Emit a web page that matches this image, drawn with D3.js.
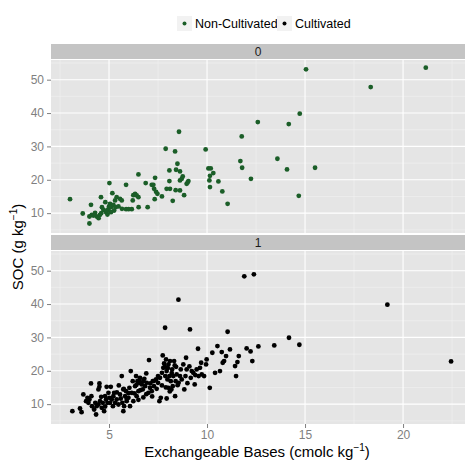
<!DOCTYPE html>
<html>
<head>
<meta charset="utf-8">
<script src="https://cdn.jsdelivr.net/npm/d3@7"></script>
<style>
  body { margin: 0; background: #fff; }
  text { font-family: "Liberation Sans", Arial, sans-serif; }
</style>
</head>
<body>
<div id="chart"></div>
<script>
// panel labels and legend
var panels = ["0", "1"];
var groups = ["Non-Cultivated", "Cultivated"];
var colors = ["#1b5e28", "#000000"];
var xTicks = [5, 10, 15, 20];
var yTicks = [10, 20, 30, 40, 50];

// Non-Cultivated (panel 0)
var nonCultX = [3.01, 3.66, 4.0, 4.08, 4.0, 4.12, 4.29, 4.37, 4.47, 4.54, 4.59, 4.64, 4.71, 4.81, 4.85, 4.92, 4.98, 5.05, 5.1, 5.17,
  5.22, 5.26, 5.31, 5.34, 5.39, 5.48, 5.56, 5.65, 5.66, 5.87, 5.87, 6.0, 6.16, 6.21, 6.24, 6.33, 6.41, 6.5, 6.51, 6.5,
  6.87, 6.97, 7.18, 7.26, 7.35, 7.3, 7.4, 7.47, 7.7, 7.89, 7.94, 8.08, 8.08, 8.11, 8.25, 8.37, 8.42, 8.49, 8.57, 8.62,
  8.62, 8.62, 8.71, 8.76, 8.83, 8.96, 9.01, 9.05, 9.93, 10.07, 10.12, 10.15, 10.19, 10.15, 10.32, 10.58, 10.78, 11.05, 11.7, 11.79,
  11.77, 12.24, 12.59, 13.59, 14.08, 14.17, 14.68, 14.73, 15.05, 15.51, 18.35, 21.16, 7.33, 8.4, 5.02, 4.2, 4.9, 5.1, 4.6, 5.0];
var nonCultY = [14.2, 9.9, 6.9, 12.5, 9.0, 9.5, 10.1, 9.0, 8.5, 9.5, 14.8, 11.8, 11.0, 13.3, 10.3, 9.6, 11.3, 12.8, 11.8, 16.0,
  12.5, 10.8, 13.8, 11.8, 14.8, 12.0, 14.3, 13.8, 11.3, 11.2, 18.5, 11.2, 11.2, 13.8, 15.4, 15.8, 15.3, 21.6, 11.8, 14.8,
  19.0, 11.8, 18.5, 18.5, 20.6, 17.3, 16.4, 15.8, 15.0, 29.3, 17.3, 22.8, 19.6, 17.3, 13.7, 28.5, 23.0, 24.8, 34.4, 22.5,
  19.8, 16.8, 20.3, 21.0, 15.4, 18.8, 19.2, 19.6, 29.1, 23.4, 19.8, 17.8, 23.4, 21.2, 22.0, 19.5, 16.5, 12.8, 25.6, 23.6,
  33.0, 20.3, 37.3, 26.3, 23.1, 36.7, 15.2, 39.8, 53.1, 23.6, 47.8, 53.6, 14.2, 16.9, 19.0, 9.3, 10.8, 10.3, 10.0, 12.0];

// Cultivated (panel 1)
var cultX = [3.13, 3.52, 3.6, 3.69, 3.83, 3.9, 3.95, 4.0, 4.08, 4.13, 4.24, 4.34, 4.37, 4.46, 4.51, 4.51, 4.54, 4.63, 4.68, 4.75,
  4.8, 4.85, 4.88, 4.92, 4.97, 5.02, 5.05, 5.09, 5.14, 5.22, 5.26, 5.31, 5.39, 5.48, 5.56, 5.65, 5.68, 5.73, 5.77, 5.82,
  5.87, 5.9, 5.99, 6.04, 6.07, 6.11, 6.16, 6.21, 6.24, 6.33, 6.38, 6.41, 6.45, 6.5, 6.55, 6.58, 6.67, 6.72, 6.75, 6.84,
  6.92, 7.01, 7.04, 7.09, 7.18, 7.23, 7.29, 7.4, 7.43, 7.5, 7.57, 7.6, 7.64, 7.7, 7.74, 7.77, 7.81, 7.86, 7.87, 7.91,
  7.94, 7.98, 8.03, 8.03, 8.08, 8.11, 8.15, 8.18, 8.22, 8.25, 8.28, 8.32, 8.37, 8.4, 8.42, 8.45, 8.54, 8.55, 8.62, 8.66,
  8.71, 8.79, 8.84, 8.9, 8.93, 8.96, 9.13, 9.17, 9.22, 9.3, 9.37, 9.47, 9.54, 9.57, 9.64, 9.73, 9.85, 9.95, 9.98, 10.14,
  10.27, 10.41, 10.53, 10.66, 10.75, 10.8, 10.87, 10.97, 11.05, 11.17, 11.43, 11.48, 11.55, 11.62, 11.9, 12.39, 12.02, 12.22, 12.31, 12.62,
  13.43, 14.18, 14.71, 19.2, 22.45, 7.94, 6.5, 4.46, 5.73,
  6.55, 6.8, 7.1, 7.3, 6.4, 6.6, 6.9, 7.2, 6.75, 6.3, 7.5, 7.7, 7.9, 8.1, 8.5, 8.2, 8.35, 8.0, 7.85, 5.4,
  5.6, 5.2, 4.8, 4.3, 4.1, 5.9, 6.0, 5.75, 4.6, 5.5, 6.9, 9.1, 9.4, 9.7, 9.0];
var cultY = [7.9, 8.7, 7.6, 12.9, 10.9, 11.9, 10.4, 11.4, 16.2, 9.4, 8.4, 6.9, 9.4, 9.9, 16.2, 15.2, 10.9, 8.9, 10.4, 7.9,
  12.4, 11.4, 15.2, 10.4, 13.4, 11.9, 10.4, 15.2, 11.4, 12.4, 13.4, 10.4, 11.4, 9.9, 12.9, 18.4, 10.4, 7.9, 9.4, 12.4,
  13.9, 10.9, 11.9, 14.9, 9.4, 19.9, 13.4, 16.9, 10.9, 15.4, 18.4, 12.4, 16.9, 13.9, 16.4, 17.9, 15.9, 14.4, 16.9, 15.4,
  16.4, 13.4, 23.2, 14.9, 13.9, 16.9, 15.4, 17.4, 14.6, 18.4, 10.9, 17.9, 11.9, 19.4, 24.6, 20.9, 22.2, 32.9, 18.4, 23.4,
  19.9, 17.4, 21.9, 14.9, 18.4, 22.9, 16.9, 14.4, 20.4, 15.4, 18.4, 22.9, 12.4, 16.9, 21.2, 18.9, 41.3, 16.4, 18.4, 20.4,
  17.4, 21.9, 14.4, 18.4, 23.9, 20.4, 32.4, 17.9, 19.9, 19.4, 15.9, 20.4, 26.6, 18.4, 20.9, 18.9, 18.4, 21.9, 23.4, 14.9,
  25.4, 19.4, 27.4, 19.9, 25.6, 22.4, 22.9, 24.4, 31.7, 26.4, 21.4, 18.4, 22.6, 24.4, 48.3, 48.9, 26.7, 25.8, 22.9, 27.3,
  27.6, 29.9, 27.8, 39.8, 22.8, 11.7, 11.3, 14.4, 14.4,
  17.2, 17.6, 16.2, 17.0, 15.8, 14.2, 13.0, 12.3, 12.0, 13.2, 16.4, 15.6, 15.0, 13.8, 15.7, 19.3, 21.6, 20.8, 21.2, 13.5,
  11.7, 9.4, 9.3, 10.4, 12.4, 11.6, 13.3, 14.6, 12.2, 15.6, 19.2, 21.3, 18.7, 22.4, 16.3];

var width = 465, height = 461;
var left = 51, right = 465;
var stripH = 16;
var panelTops = [60, 251];
var panelH = 173;

var svg = d3.select("#chart").append("svg")
  .attr("width", width)
  .attr("height", height);

var x = d3.scaleLinear().domain([2.04, 23.16]).range([left, right]);

var series = [
  nonCultX.map(function (v, i) { return { x: v, y: nonCultY[i] }; }),
  cultX.map(function (v, i) { return { x: v, y: cultY[i] }; })
];

panels.forEach(function (p, k) {
  var top = panelTops[k];
  var y = d3.scaleLinear().domain([4.05, 55.9]).range([top + panelH, top]);

  // strip
  svg.append("rect")
    .attr("x", left).attr("y", top - stripH)
    .attr("width", right - left).attr("height", stripH - 1)
    .attr("fill", "#c4c4c4");
  svg.append("text")
    .attr("x", (left + right) / 2).attr("y", top - stripH / 2 + 4)
    .attr("text-anchor", "middle")
    .attr("font-size", 12)
    .attr("fill", "#1a1a1a")
    .text(p);

  // panel background
  svg.append("rect")
    .attr("x", left).attr("y", top)
    .attr("width", right - left).attr("height", panelH)
    .attr("fill", "#e5e5e5");

  var g = svg.append("g");
  // minor grid
  [2.5, 7.5, 12.5, 17.5, 22.5].forEach(function (v) {
    g.append("line").attr("x1", x(v)).attr("x2", x(v))
      .attr("y1", top).attr("y2", top + panelH)
      .attr("stroke", "#f2f2f2").attr("stroke-width", 0.6);
  });
  [5, 15, 25, 35, 45, 55].forEach(function (v) {
    g.append("line").attr("x1", left).attr("x2", right)
      .attr("y1", y(v)).attr("y2", y(v))
      .attr("stroke", "#f2f2f2").attr("stroke-width", 0.6);
  });
  // major grid
  xTicks.forEach(function (v) {
    g.append("line").attr("x1", x(v)).attr("x2", x(v))
      .attr("y1", top).attr("y2", top + panelH)
      .attr("stroke", "#ffffff").attr("stroke-width", 1.1);
  });
  yTicks.forEach(function (v) {
    g.append("line").attr("x1", left).attr("x2", right)
      .attr("y1", y(v)).attr("y2", y(v))
      .attr("stroke", "#ffffff").attr("stroke-width", 1.1);
  });

  // y axis
  var ya = svg.append("g")
    .attr("transform", "translate(" + left + ",0)")
    .call(d3.axisLeft(y).tickValues(yTicks).tickSize(4).tickPadding(3));
  ya.select(".domain").remove();
  ya.selectAll("line").attr("stroke", "#7f7f7f");
  ya.selectAll("text").attr("font-size", 12).attr("fill", "#7f7f7f")
    .style("font-family", "Liberation Sans, Arial, sans-serif");

  // points
  svg.append("g").selectAll("circle")
    .data(series[k])
    .enter()
    .append("circle")
    .attr("cx", function (d) { return x(d.x); })
    .attr("cy", function (d) { return y(d.y); })
    .attr("r", 2.4)
    .attr("fill", colors[k]);
});

// x axis under the bottom panel
var xa = svg.append("g")
  .attr("transform", "translate(0," + (panelTops[1] + panelH) + ")")
  .call(d3.axisBottom(x).tickValues(xTicks).tickSize(4).tickPadding(2));
xa.select(".domain").remove();
xa.selectAll("line").attr("stroke", "#7f7f7f");
xa.selectAll("text").attr("font-size", 12).attr("fill", "#7f7f7f")
  .style("font-family", "Liberation Sans, Arial, sans-serif");

// axis titles
var xt = svg.append("text")
  .attr("x", (left + right) / 2 - 1).attr("y", 457)
  .attr("text-anchor", "middle")
  .attr("font-size", 15);
xt.append("tspan").text("Exchangeable Bases (cmolc kg");
xt.append("tspan").attr("font-size", 10).attr("dy", -6).text("\u22121");
xt.append("tspan").attr("dy", 6).text(")");

var yt = svg.append("text")
  .attr("transform", "translate(23," + ((panelTops[0] + panelTops[1] + panelH) / 2 + 5) + ") rotate(-90)")
  .attr("text-anchor", "middle")
  .attr("font-size", 15);
yt.append("tspan").text("SOC (g kg");
yt.append("tspan").attr("font-size", 10).attr("dy", -6).text("\u22121");
yt.append("tspan").attr("dy", 6).text(")");

// legend
var legX = [177, 277];
groups.forEach(function (name, i) {
  var lg = svg.append("g").attr("transform", "translate(" + legX[i] + ",16)");
  lg.append("rect").attr("width", 15).attr("height", 15).attr("fill", "#f2f2f2");
  lg.append("circle").attr("cx", 7.5).attr("cy", 7.5).attr("r", 2).attr("fill", colors[i]);
  lg.append("text").attr("x", 18).attr("y", 12).attr("font-size", 12.5).attr("fill", "#000").text(name);
});
</script>
</body>
</html>
